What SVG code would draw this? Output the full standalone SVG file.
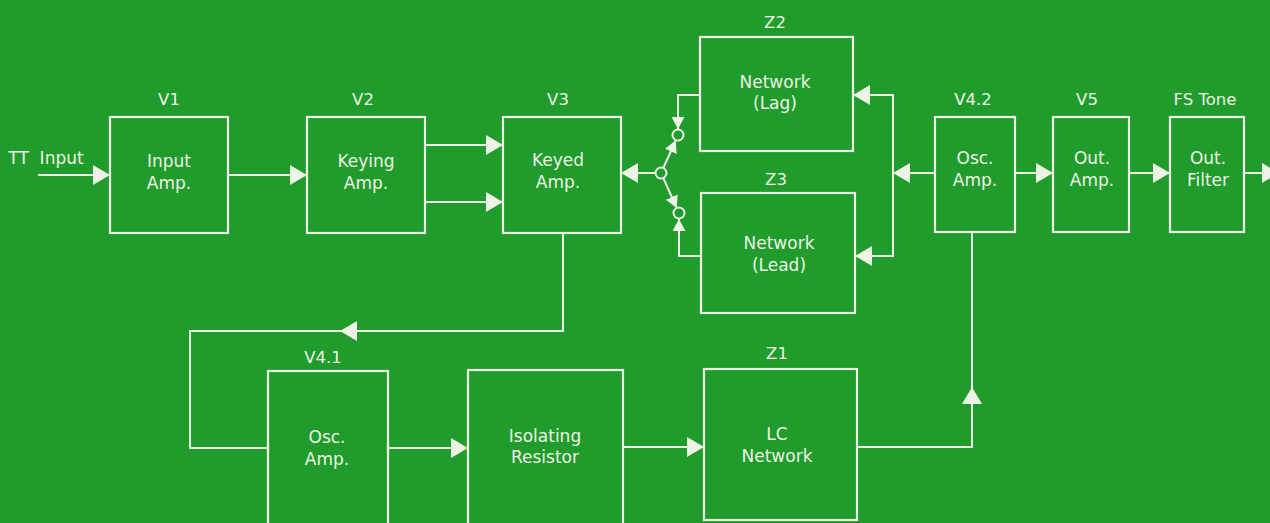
<svg xmlns="http://www.w3.org/2000/svg" width="1270" height="523" viewBox="0 0 1270 523">
<defs>
<style>
.bx{fill:none;stroke:#eef3e6;stroke-width:2.2}
.ln{fill:none;stroke:#eef3e6;stroke-width:2}
.t{font-family:"DejaVu Sans","Liberation Sans",sans-serif;font-size:17px;fill:#eef3e6;text-anchor:middle}
.lb{font-family:"DejaVu Sans","Liberation Sans",sans-serif;font-size:16.5px;fill:#eef3e6;text-anchor:middle}
.ci{fill:none;stroke:#eef3e6;stroke-width:2}
</style>
<marker id="ar" markerUnits="userSpaceOnUse" markerWidth="18" markerHeight="21" refX="17" refY="10" orient="auto" viewBox="0 0 18 21"><path d="M0,0 L17,10 L0,20 z" fill="#eef3e6"/></marker>
<marker id="sm" markerUnits="userSpaceOnUse" markerWidth="13" markerHeight="14" refX="12" refY="6.5" orient="auto" viewBox="0 0 13 14"><path d="M0,0 L12,6.5 L0,13 z" fill="#eef3e6"/></marker>
</defs>
<rect width="1270" height="523" fill="#1f9c2b"/>

<g id="connectors">
<text class="t" x="46" y="164" xml:space="preserve">TT  Input</text>
<line class="ln" x1="38" y1="175" x2="110" y2="175" marker-end="url(#ar)"/>
<line class="ln" x1="228" y1="175" x2="307" y2="175" marker-end="url(#ar)"/>
<line class="ln" x1="425" y1="145" x2="503" y2="145" marker-end="url(#ar)"/>
<line class="ln" x1="425" y1="202" x2="503" y2="202" marker-end="url(#ar)"/>
<line class="ln" x1="655.5" y1="173" x2="621" y2="173" marker-end="url(#ar)"/>
<polyline class="ln" points="563,233 563,331 340,331" marker-end="url(#ar)"/>
<polyline class="ln" points="342,331 190,331 190,448 268,448"/>
<line class="ln" x1="388" y1="448" x2="468" y2="448" marker-end="url(#ar)"/>
<line class="ln" x1="623" y1="447" x2="704" y2="447" marker-end="url(#ar)"/>
<polyline class="ln" points="857,447 972,447 972,387" marker-end="url(#ar)"/>
<line class="ln" x1="972" y1="389" x2="972" y2="232"/>
<line class="ln" x1="935" y1="173" x2="893" y2="173" marker-end="url(#ar)"/>
<line class="ln" x1="893" y1="94" x2="893" y2="257"/>
<line class="ln" x1="893" y1="95" x2="853" y2="95" marker-end="url(#ar)"/>
<line class="ln" x1="893" y1="256" x2="855" y2="256" marker-end="url(#ar)"/>
<line class="ln" x1="1015" y1="173" x2="1053" y2="173" marker-end="url(#ar)"/>
<line class="ln" x1="1129" y1="173" x2="1170" y2="173" marker-end="url(#ar)"/>
<line class="ln" x1="1244" y1="173" x2="1279" y2="173" marker-end="url(#ar)"/>
<circle class="ci" cx="661" cy="173" r="5.5"/>
<circle class="ci" cx="678" cy="135" r="5.5"/>
<circle class="ci" cx="679" cy="213" r="5.5"/>
<polyline class="ln" points="700,95 678,95 678,129" marker-end="url(#sm)"/>
<line class="ln" x1="663.3" y1="168" x2="675.7" y2="140.5" marker-end="url(#sm)"/>
<line class="ln" x1="663.3" y1="178" x2="676.7" y2="208" marker-end="url(#sm)"/>
<polyline class="ln" points="701,256 679,256 679,219" marker-end="url(#sm)"/>
</g>

<g id="v1">
<rect class="bx" x="110" y="117" width="118" height="116"/>
<text class="lb" x="169" y="105">V1</text>
<text class="t" x="169" y="167">Input</text>
<text class="t" x="169" y="189">Amp.</text>
</g>
<g id="v2">
<rect class="bx" x="307" y="117" width="118" height="116"/>
<text class="lb" x="363" y="105">V2</text>
<text class="t" x="366" y="167">Keying</text>
<text class="t" x="366" y="189">Amp.</text>
</g>
<g id="v3">
<rect class="bx" x="503" y="117" width="118" height="116"/>
<text class="lb" x="558" y="105">V3</text>
<text class="t" x="558" y="166">Keyed</text>
<text class="t" x="558" y="188">Amp.</text>
</g>
<g id="z2">
<rect class="bx" x="700" y="37" width="153" height="114"/>
<text class="lb" x="775" y="28">Z2</text>
<text class="t" x="775" y="88">Network</text>
<text class="t" x="775" y="109">(Lag)</text>
</g>
<g id="z3">
<rect class="bx" x="701" y="193" width="154" height="120"/>
<text class="lb" x="776" y="185">Z3</text>
<text class="t" x="779" y="249">Network</text>
<text class="t" x="779" y="271">(Lead)</text>
</g>
<g id="v42">
<rect class="bx" x="935" y="117" width="80" height="115"/>
<text class="lb" x="973" y="105">V4.2</text>
<text class="t" x="975" y="164">Osc.</text>
<text class="t" x="975" y="186">Amp.</text>
</g>
<g id="v5">
<rect class="bx" x="1053" y="117" width="76" height="115"/>
<text class="lb" x="1087" y="105">V5</text>
<text class="t" x="1092" y="164">Out.</text>
<text class="t" x="1092" y="186">Amp.</text>
</g>
<g id="fs">
<rect class="bx" x="1170" y="117" width="74" height="115"/>
<text class="lb" x="1205" y="105">FS Tone</text>
<text class="t" x="1208" y="164">Out.</text>
<text class="t" x="1208" y="186">Filter</text>
</g>
<g id="v41">
<rect class="bx" x="268" y="371" width="120" height="170"/>
<text class="lb" x="323" y="363">V4.1</text>
<text class="t" x="327" y="443">Osc.</text>
<text class="t" x="327" y="465">Amp.</text>
</g>
<g id="iso">
<rect class="bx" x="468" y="370" width="155" height="170"/>
<text class="t" x="545" y="442">Isolating</text>
<text class="t" x="545" y="463">Resistor</text>
</g>
<g id="z1">
<rect class="bx" x="704" y="369" width="153" height="151"/>
<text class="lb" x="777" y="359">Z1</text>
<text class="t" x="777" y="440">LC</text>
<text class="t" x="777" y="462">Network</text>
</g>
</svg>
